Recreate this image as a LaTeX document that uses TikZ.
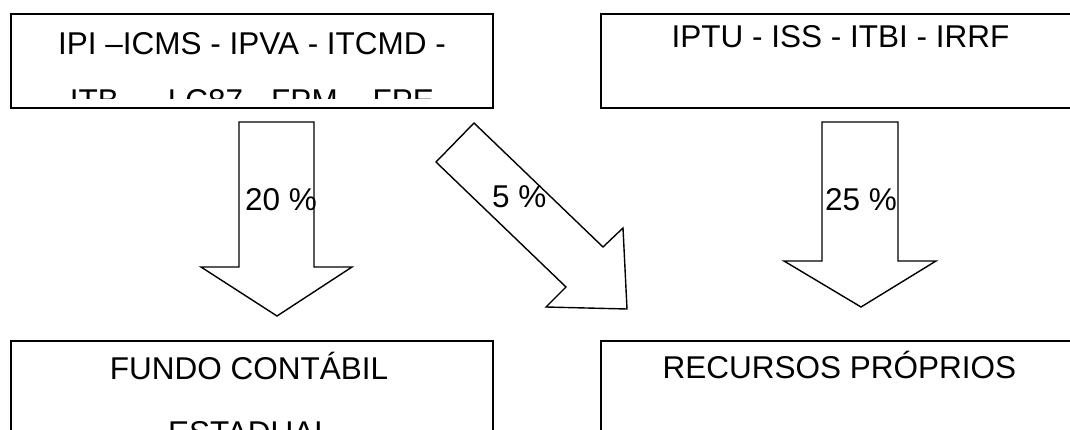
\documentclass[tikz,border=0pt]{standalone}
\usepackage{fontspec}
\setmainfont{Liberation Sans}
\begin{document}
\begin{tikzpicture}[x=1pt,y=-1pt,
  boxframe/.style={draw=black,line width=1.8pt,fill=white},
  blockarrow/.style={draw=black,line width=1.4pt,fill=white,line join=miter},
  lbl/.style={anchor=base,inner sep=0pt,font=\fontsize{31.5}{37}\selectfont}]
\useasboundingbox (0,0) rectangle (1070,430);
\clip (0,0) rectangle (1070,430);
\fill[white] (0,0) rectangle (1070,430);
% boxes
\draw[boxframe] (11,14) rectangle (493,108);
\draw[boxframe] (601,14) rectangle (1080,108);
\draw[boxframe] (11,341) rectangle (493,460);
\draw[boxframe] (601,341) rectangle (1080,460);
% box texts
\node[lbl] (t1) at (252,55) {IPI –ICMS - IPVA - ITCMD -};
\begin{scope}
\clip (12,15) rectangle (492,99);
\node[lbl] (t1b) at (252,111.5) {ITB — LC87 - FPM – FPE};
\end{scope}
\node[lbl] (t2) at (840.5,48) {IPTU - ISS - ITBI - IRRF};
\node[lbl] (t3) at (249,379) {FUNDO CONTÁBIL};
\node[lbl] (t3b) at (250,443) {ESTADUAL};
\node[lbl] (t4) at (839.5,378) {RECURSOS PRÓPRIOS};
% arrows
\draw[blockarrow] (239,122) -- (314,122) -- (314,267) -- (352,267) -- (277,316) -- (201,267) -- (239,267) -- cycle;
\draw[blockarrow] (474,123) -- (603,247) -- (623,228) -- (627,309) -- (546,307) -- (566,287) -- (436,162) -- cycle;
\draw[blockarrow] (822,122) -- (898,122) -- (898,261) -- (936,261) -- (861,307) -- (784,261) -- (822,261) -- cycle;
% arrow labels
\node[lbl,anchor=base west] (p1) at (245,211) {20 \%};
\node[lbl,anchor=base west] (p2) at (492,208) {5 \%};
\node[lbl,anchor=base west] (p3) at (825,211) {25 \%};
\end{tikzpicture}
\end{document}
